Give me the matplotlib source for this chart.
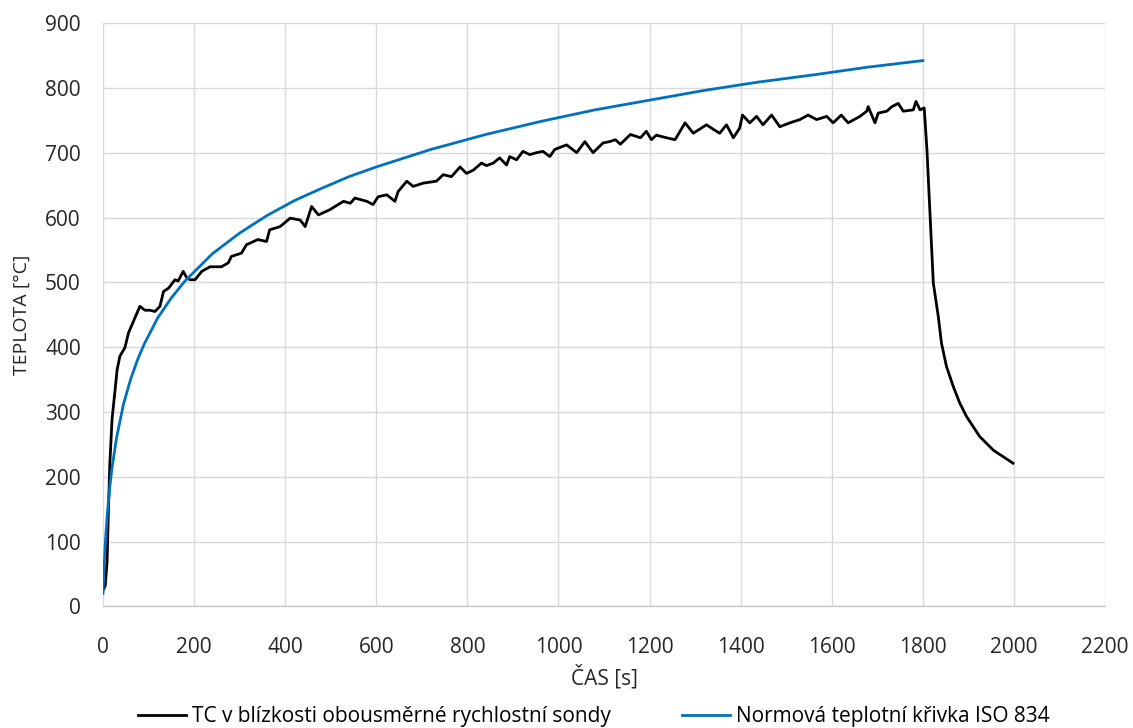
import matplotlib
matplotlib.use("Agg")
import matplotlib.pyplot as plt

# Measured thermocouple near the bidirectional velocity probe
tc_time = [0, 5, 9, 12, 15, 20, 26, 31, 37, 48, 56, 70, 81, 92, 103, 114, 125, 133, 144,
           158, 165, 176, 184, 191, 202, 217, 235, 260, 275, 282, 304, 315, 340, 359, 366,
           389, 411, 433, 444, 458, 473, 498, 528, 543, 553, 579, 593, 604, 623, 641, 648,
           667, 681, 703, 732, 747, 765, 784, 798, 813, 831, 842, 857, 871, 886, 893, 908,
           922, 937, 952, 966, 981, 992, 1003, 1018, 1040, 1058, 1076, 1098, 1112, 1125,
           1136, 1158, 1180, 1193, 1204, 1215, 1237, 1256, 1278, 1296, 1325, 1340, 1354,
           1369, 1384, 1398, 1404, 1420, 1435, 1449, 1468, 1486, 1508, 1530, 1548, 1567,
           1589, 1603, 1621, 1636, 1662, 1677, 1680, 1695, 1702, 1721, 1732, 1746, 1757,
           1779, 1785, 1794, 1803, 1809, 1816, 1823, 1834, 1841, 1852, 1867, 1881, 1896,
           1925, 1955, 1998]
tc_temp = [25, 32, 70, 150, 220, 290, 330, 365, 386, 399, 422, 445, 463, 457, 457, 455, 463,
           486, 491, 504, 502, 517, 507, 504, 504, 517, 524, 524, 530, 540, 545, 558, 566,
           563, 581, 586, 599, 596, 586, 617, 604, 612, 625, 622, 630, 625, 620, 632, 635,
           625, 640, 656, 648, 653, 656, 666, 663, 678, 668, 673, 684, 680, 684, 692, 681,
           694, 689, 702, 697, 700, 702, 694, 705, 708, 712, 700, 717, 700, 715, 717, 720,
           713, 728, 723, 733, 720, 727, 723, 720, 746, 730, 743, 736, 730, 743, 723, 738,
           758, 746, 756, 743, 758, 740, 746, 751, 758, 751, 756, 746, 758, 746, 756, 764,
           771, 746, 761, 764, 771, 776, 764, 766, 779, 766, 769, 705, 602, 499, 447, 406,
           370, 339, 314, 293, 262, 241, 221]

# Standard fire curve ISO 834
iso_time = [0, 2, 5, 10, 15, 20, 30, 45, 60, 75, 90, 120, 150, 180, 240, 300, 360, 420, 480,
            540, 600, 720, 840, 960, 1080, 1200, 1320, 1440, 1560, 1680, 1800]
iso_temp = [20, 55, 97, 147, 185, 215, 261, 312, 349, 379, 404, 445, 476, 502, 544, 576, 603,
            626, 645, 663, 678, 705, 728, 748, 766, 781, 796, 809, 820, 832, 842]

series_labels = ["TC v blízkosti obousměrné rychlostní sondy",
                 "Normová teplotní křivka ISO 834"]
x_label = "ČAS [s]"
y_label = "TEPLOTA [°C]"

plt.rcParams["font.family"] = ["Open Sans", "DejaVu Sans"]

fig = plt.figure(figsize=(11.33, 7.28), dpi=100)
ax = fig.add_axes([0.0909, 0.1669, 0.8844, 0.8015])

ax.plot(tc_time, tc_temp, color="black", lw=2.0, label=series_labels[0], zorder=3)
ax.plot(iso_time, iso_temp, color="#0070C0", lw=2.0, label=series_labels[1], zorder=3)

ax.set_xlim(0, 2200)
ax.set_ylim(0, 900)
ax.set_xticks(range(0, 2201, 200))
ax.set_yticks(range(0, 901, 100))
ax.grid(True, color="#d9d9d9", lw=1.0)
ax.set_axisbelow(True)
for side in ["top", "right", "left"]:
    ax.spines[side].set_visible(False)
ax.spines["bottom"].set_color("#c8c8c8")
ax.spines["bottom"].set_linewidth(1.0)
ax.tick_params(length=0, labelsize=15, colors="#262626")
ax.tick_params(axis="x", pad=22)
ax.tick_params(axis="y", pad=16)

ax.set_xlabel(x_label, fontsize=15, color="#262626", labelpad=5)
ax.set_ylabel(y_label, fontsize=14, color="#262626", labelpad=10)

fig.legend(loc="center", bbox_to_anchor=(0.524, 0.016), ncol=2, frameon=False,
           fontsize=15, handlelength=2.3, columnspacing=3.4, handletextpad=0.3)

fig.savefig("out.png", dpi=100, facecolor="white")
